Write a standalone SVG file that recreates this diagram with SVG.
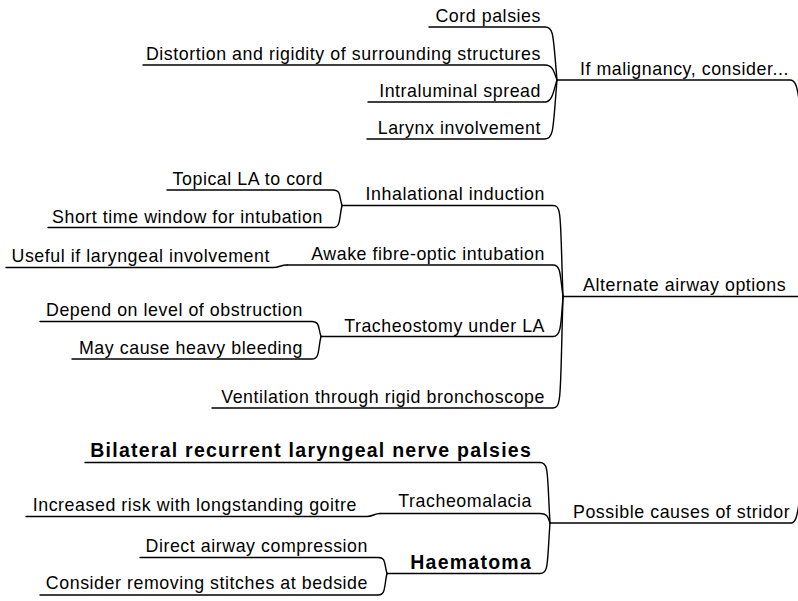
<svg xmlns="http://www.w3.org/2000/svg" width="798" height="601" viewBox="0 0 798 601">
  <style>
    text { font-family: "Liberation Sans", Arial, sans-serif; font-size: 17.8px; letter-spacing: 0.56px; fill: #000; }
    .r { text-anchor: end; }
    .b { font-weight: bold; font-size: 19.5px; letter-spacing: 1.25px; }
    .ln { fill: none; stroke: #000; stroke-width: 1.4; stroke-linecap: round; }
  </style>
  <rect width="798" height="601" fill="#fff"/>

  <!-- connectors -->
  <g id="connectors" class="ln">
    <!-- branch 1 -->
    <path d="M557,80 H790 C795,80 797,85 799,100"/>
    <path d="M429,27 H545 C554,27 553,35 557,80"/>
    <path d="M143,65 H545 C553,65 554,72 557,80"/>
    <path d="M368,102 H545 C553,102 554,88 557,80"/>
    <path d="M367,139 H545 C554,139 553,128 557,80"/>
    <!-- branch 2 -->
    <path d="M563,296.5 H799"/>
    <path d="M342,205.5 H553 C562,205.5 560,215 563,296.5"/>
    <path d="M287,265 H553 C561,265 560,275 563,296.5"/>
    <path d="M321,336.5 H553 C561,336.5 561,325 563,296.5"/>
    <path d="M212,408 H553 C562,408 560,395 563,296.5"/>
    <path d="M167,190 H333 C341,190 339,196 342,205.5"/>
    <path d="M48,227.5 H333 C341,227.5 339,218 342,205.5"/>
    <path d="M6,267.5 H273 C280,267.5 280,265 287,265"/>
    <path d="M40,321.5 H312 C320,321.5 318,328 321,336.5"/>
    <path d="M72,359 H312 C320,359 318,348 321,336.5"/>
    <!-- branch 3 -->
    <path d="M550,523 H791 C795,523 797,518 799,503"/>
    <path d="M85,462.5 H540 C549,462.5 547,472 550,523"/>
    <path d="M380,513.5 H540 C548,513.5 548,518 550,523"/>
    <path d="M387,573.5 H540 C549,573.5 547,563 550,523"/>
    <path d="M26,516.5 H367 C373,516.5 374,513.5 380,513.5"/>
    <path d="M140,557.5 H378 C386,557.5 384,563 387,573.5"/>
    <path d="M40,595 H378 C386,595 384,586 387,573.5"/>
  </g>

  <!-- branch 1: malignancy -->
  <g id="n-malignancy"><text x="580" y="75">If malignancy, consider...</text></g>
  <g id="n-cord-palsies"><text class="r" x="541" y="22">Cord palsies</text></g>
  <g id="n-distortion"><text class="r" x="541" y="60">Distortion and rigidity of surrounding structures</text></g>
  <g id="n-intraluminal"><text class="r" x="541" y="97">Intraluminal spread</text></g>
  <g id="n-larynx"><text class="r" x="541" y="134">Larynx involvement</text></g>

  <!-- branch 2: airway options -->
  <g id="n-airway"><text x="583" y="291">Alternate airway options</text></g>
  <g id="n-inhalational"><text class="r" x="545" y="200">Inhalational induction</text></g>
  <g id="n-topical"><text class="r" x="323" y="185">Topical LA to cord</text></g>
  <g id="n-short-window"><text class="r" x="323" y="222.5">Short time window for intubation</text></g>
  <g id="n-awake"><text class="r" x="545" y="259.5">Awake fibre-optic intubation</text></g>
  <g id="n-useful"><text class="r" x="270" y="262">Useful if laryngeal involvement</text></g>
  <g id="n-tracheostomy"><text class="r" x="545" y="331.5">Tracheostomy under LA</text></g>
  <g id="n-depend"><text class="r" x="303" y="316">Depend on level of obstruction</text></g>
  <g id="n-bleeding"><text class="r" x="303" y="353.5">May cause heavy bleeding</text></g>
  <g id="n-ventilation"><text class="r" x="545" y="403">Ventilation through rigid bronchoscope</text></g>

  <!-- branch 3: stridor -->
  <g id="n-stridor"><text x="573" y="518">Possible causes of stridor</text></g>
  <g id="n-bilateral"><text class="r b" x="532" y="457">Bilateral recurrent laryngeal nerve palsies</text></g>
  <g id="n-tracheomalacia"><text class="r" x="532" y="507">Tracheomalacia</text></g>
  <g id="n-goitre"><text class="r" x="357" y="511">Increased risk with longstanding goitre</text></g>
  <g id="n-haematoma"><text class="r b" x="532" y="568.5">Haematoma</text></g>
  <g id="n-compression"><text class="r" x="368" y="552">Direct airway compression</text></g>
  <g id="n-stitches"><text class="r" x="368" y="589">Consider removing stitches at bedside</text></g>
</svg>
